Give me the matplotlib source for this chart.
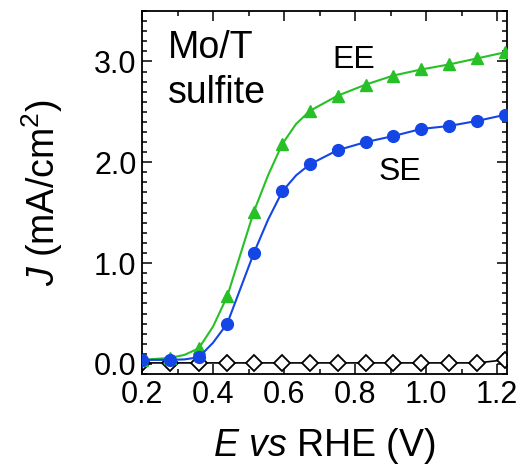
import matplotlib
matplotlib.use("Agg")
import matplotlib.pyplot as plt
from matplotlib.ticker import MultipleLocator

plt.rcParams['font.family'] = ['Liberation Sans', 'DejaVu Sans']
plt.rcParams['mathtext.fontset'] = 'custom'
plt.rcParams['mathtext.rm'] = 'Liberation Sans'
plt.rcParams['mathtext.it'] = 'Liberation Sans:italic'

# Marker potentials (V vs RHE)
marker_v = [0.20, 0.28, 0.36, 0.44, 0.515, 0.595, 0.673, 0.751, 0.830, 0.908, 0.986, 1.065, 1.144, 1.222]
# EE (green triangles)
ee_j = [0.04, 0.06, 0.155, 0.67, 1.51, 2.18, 2.51, 2.66, 2.77, 2.86, 2.92, 2.97, 3.03, 3.09]
# SE (blue circles)
se_j = [0.04, 0.04, 0.066, 0.40, 1.10, 1.71, 1.98, 2.12, 2.20, 2.26, 2.33, 2.36, 2.41, 2.47]
# dark (open diamonds)
dark_j = [0.01, 0.01, 0.01, 0.01, 0.01, 0.01, 0.01, 0.01, 0.01, 0.01, 0.01, 0.01, 0.01, 0.04]

# extra points
ee_line_v = [0.20, 0.28, 0.32, 0.36, 0.40, 0.44, 0.515, 0.555, 0.595, 0.634, 0.673, 0.751, 0.830, 0.908, 0.986, 1.065, 1.144, 1.222]
ee_line_j = [0.04, 0.06, 0.09, 0.155, 0.37, 0.67, 1.51, 1.87, 2.18, 2.38, 2.51, 2.66, 2.77, 2.86, 2.92, 2.97, 3.03, 3.09]
se_line_v = [0.20, 0.28, 0.32, 0.36, 0.40, 0.44, 0.515, 0.555, 0.595, 0.634, 0.673, 0.751, 0.830, 0.908, 0.986, 1.065, 1.144, 1.222]
se_line_j = [0.04, 0.04, 0.045, 0.066, 0.21, 0.40, 1.10, 1.43, 1.71, 1.87, 1.98, 2.12, 2.20, 2.26, 2.33, 2.36, 2.41, 2.47]

green = '#27c027'
blue = '#1446e6'

fig = plt.figure(figsize=(5.22, 4.67), dpi=100)
ax = fig.add_axes([142/522, 1 - 374/467, (507-142)/522, (374-11)/467])

ax.plot(marker_v, dark_j, color='black', lw=1.2, marker='D', ms=8,
        mfc='white', mec='black', mew=1.3, zorder=2)
ax.plot(ee_line_v, ee_line_j, color=green, lw=1.5, zorder=3)
ax.plot(marker_v, ee_j, ls='none', marker='^', ms=9, color=green, zorder=4)
ax.plot(se_line_v, se_line_j, color=blue, lw=1.5, zorder=5)
ax.plot(marker_v, se_j, ls='none', marker='o', ms=8.5, color=blue, zorder=6)

ax.set_xlim(0.2, 1.228)
ax.set_ylim(-0.1, 3.5)
ax.xaxis.set_minor_locator(MultipleLocator(0.1))
ax.yaxis.set_minor_locator(MultipleLocator(0.1))
ax.set_xticks([0.2, 0.4, 0.6, 0.8, 1.0, 1.2])
ax.set_xticklabels(['0.2', '0.4', '0.6', '0.8', '1.0', '1.2'])
ax.set_yticks([0, 1, 2, 3])
ax.set_yticklabels(['0.0', '1.0', '2.0', '3.0'])
ax.tick_params(which='both', direction='in', top=True, right=True, labelsize=22, width=1.1, pad=4)
ax.tick_params(which='major', length=7)
ax.tick_params(which='minor', length=3.5)
for s in ax.spines.values():
    s.set_linewidth(1.3)

ax.set_xlabel(r'$E$ $vs$ RHE (V)', fontsize=27, labelpad=12)
ax.set_ylabel(r'$J$ (mA/cm$^2$)', fontsize=27, labelpad=21)

fig.text(168/522, 1 - 58/467, 'Mo/T', fontsize=27, va='baseline', ha='left')
fig.text(168/522, 1 - 103/467, 'sulfite', fontsize=27, va='baseline', ha='left')
fig.text(354/522, 1 - 68/467, 'EE', fontsize=23, va='baseline', ha='center')
fig.text(400/522, 1 - 180/467, 'SE', fontsize=23, va='baseline', ha='center')

fig.savefig('out.png', dpi=100)
